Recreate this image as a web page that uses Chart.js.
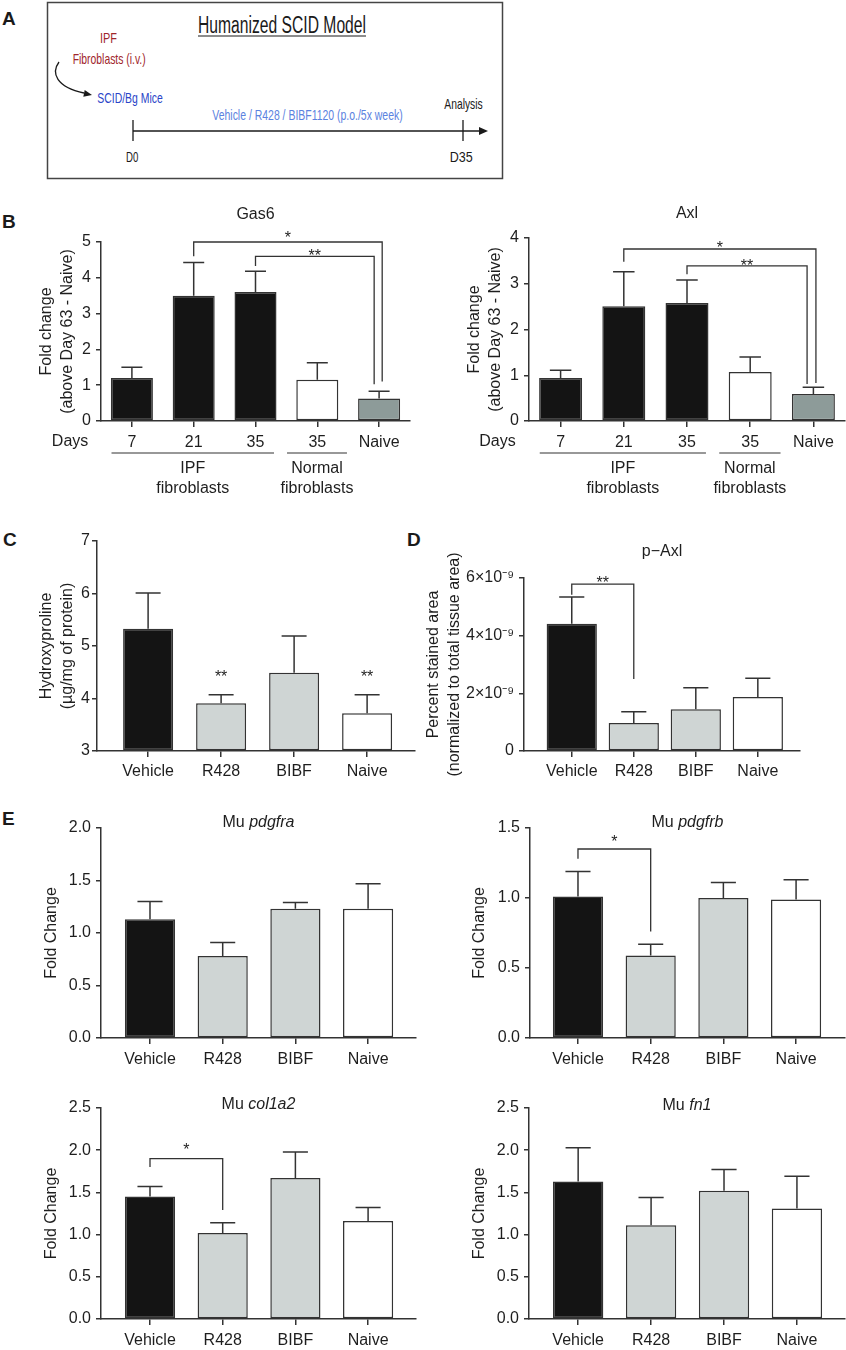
<!DOCTYPE html>
<html>
<head>
<meta charset="utf-8">
<script src="https://cdn.jsdelivr.net/npm/chart.js@4.4.1/dist/chart.umd.min.js"></script>
<style>
  html, body { margin: 0; padding: 0; background: #fff; }
  #page { position: relative; width: 846px; height: 1350px; overflow: hidden; }
  #page canvas { position: absolute; }
  #schema { position: absolute; left: 0; top: 0; }
</style>
</head>
<body>
<div id="page">
<svg id="schema" width="846" height="1350" font-family="'Liberation Sans', Arial, sans-serif">
  <g font-size="19" font-weight="bold" fill="#1a1a1a">
    <text x="2" y="25">A</text>
    <text x="2" y="228">B</text>
    <text x="3" y="546">C</text>
    <text x="407" y="546">D</text>
    <text x="2" y="825">E</text>
  </g>
  <rect x="47.5" y="2.5" width="455" height="176" fill="none" stroke="#444" stroke-width="1.5"/>
  <text x="198" y="33" font-size="23" fill="#1a1a1a" textLength="168" lengthAdjust="spacingAndGlyphs">Humanized SCID Model</text>
  <line x1="198" y1="36" x2="366" y2="36" stroke="#1a1a1a" stroke-width="1.2"/>
  <g font-size="15">
    <text x="100" y="43.3" fill="#a0252b" textLength="17" lengthAdjust="spacingAndGlyphs">IPF</text>
    <text x="72.7" y="63.5" fill="#a0252b" textLength="73" lengthAdjust="spacingAndGlyphs">Fibroblasts (i.v.)</text>
    <text x="97.3" y="103.3" fill="#2a45c8" textLength="65.4" lengthAdjust="spacingAndGlyphs">SCID/Bg Mice</text>
    <text x="212.3" y="120" fill="#5b82e0" textLength="190.4" lengthAdjust="spacingAndGlyphs">Vehicle / R428 / BIBF1120 (p.o./5x week)</text>
    <text x="444.3" y="109.3" fill="#1a1a1a" textLength="38.4" lengthAdjust="spacingAndGlyphs">Analysis</text>
    <text x="126" y="161.7" fill="#1a1a1a" textLength="12.3" lengthAdjust="spacingAndGlyphs">D0</text>
    <text x="449.7" y="161.7" fill="#1a1a1a" textLength="23" lengthAdjust="spacingAndGlyphs">D35</text>
  </g>
  <path d="M59,62 C51,73 56,87 84,93" fill="none" stroke="#1a1a1a" stroke-width="1.3"/>
  <polygon points="92,95 84.7,89.9 83.3,96.7" fill="#1a1a1a"/>
  <line x1="133" y1="131" x2="481" y2="131" stroke="#1a1a1a" stroke-width="1.3"/>
  <polygon points="488,131 479,127 479,135" fill="#1a1a1a"/>
  <line x1="133" y1="120" x2="133" y2="141" stroke="#1a1a1a" stroke-width="1.3"/>
  <line x1="463" y1="120" x2="463" y2="141" stroke="#1a1a1a" stroke-width="1.3"/>
</svg>
<canvas id="gas6" width="423" height="305" style="left:0;top:195px"></canvas>
<canvas id="axl" width="423" height="305" style="left:423px;top:195px"></canvas>
<canvas id="hyp" width="423" height="290" style="left:0;top:510px"></canvas>
<canvas id="paxl" width="423" height="290" style="left:423px;top:510px"></canvas>
<canvas id="pdgfra" width="423" height="272" style="left:0;top:800px"></canvas>
<canvas id="pdgfrb" width="423" height="272" style="left:423px;top:800px"></canvas>
<canvas id="col1a2" width="423" height="270" style="left:0;top:1080px"></canvas>
<canvas id="fn1" width="423" height="270" style="left:423px;top:1080px"></canvas>
</div>
<script>
const FONT = "'Liberation Sans', Arial, Helvetica, sans-serif";
const INK = '#1e1e1e';
const AXIS = '#333333';

Chart.defaults.font.family = FONT;
Chart.defaults.font.size = 16;
Chart.defaults.color = INK;

// panel B: days after IPF / normal fibroblast injection
const dayLabels = ['7', '21', '35', '35', 'Naive'];
const dayColors = ['#141414', '#141414', '#141414', '#ffffff', '#8d9b99'];
const gas6Mean = [1.20, 3.50, 3.60, 1.15, 0.63];
const gas6Err = [0.30, 0.93, 0.58, 0.48, 0.20];
const gas6Ticks = [0, 1, 2, 3, 4, 5];
const axlMean = [0.94, 2.51, 2.58, 1.07, 0.59];
const axlErr = [0.17, 0.75, 0.50, 0.33, 0.15];
const axlTicks = [0, 1, 2, 3, 4];
const fibroGroups = [
  { from: -0.33, to: 2.30, text: ['IPF', 'fibroblasts'] },
  { from: 2.51, to: 3.48, text: ['Normal', 'fibroblasts'] }
];

// panels C-E: treatment groups
const treatLabels = ['Vehicle', 'R428', 'BIBF', 'Naive'];
const treatColors = ['#141414', '#cfd5d4', '#cfd5d4', '#ffffff'];
const hypMean = [5.33, 3.91, 4.49, 3.72];
const hypErr = [0.68, 0.16, 0.70, 0.35];
const hypTicks = [3, 4, 5, 6, 7];
const pAxlMean = [4.41e-9, 0.97e-9, 1.45e-9, 1.87e-9];
const pAxlErr = [0.93e-9, 0.39e-9, 0.74e-9, 0.65e-9];
const pAxlTicks = [0, 2e-9, 4e-9, 6e-9];
const pdgfraMean = [1.13, 0.78, 1.23, 1.23];
const pdgfraErr = [0.17, 0.13, 0.06, 0.24];
const pdgfraTicks = [0, 0.5, 1, 1.5, 2];
const pdgfrbMean = [1.01, 0.59, 1.00, 0.99];
const pdgfrbErr = [0.18, 0.08, 0.11, 0.14];
const pdgfrbTicks = [0, 0.5, 1, 1.5];
const col1a2Mean = [1.45, 1.02, 1.67, 1.16];
const col1a2Err = [0.12, 0.12, 0.31, 0.16];
const fn1Mean = [1.63, 1.11, 1.52, 1.31];
const fn1Err = [0.40, 0.33, 0.25, 0.38];
const foldTicks = [0, 0.5, 1, 1.5, 2, 2.5];

// significance marks (value units)
const gas6Sig = [
  { a: 1, b: 4.05, top: 5.0, endA: 4.6, endB: 1.10, text: '*', textAt: 5.22 },
  { a: 2, b: 3.92, top: 4.6, endA: 4.33, endB: 1.03, text: '**', textAt: 4.73 }
];
const axlSig = [
  { a: 1, b: 4.04, top: 3.76, endA: 3.48, endB: 0.83, text: '*', textAt: 3.87 },
  { a: 2, b: 3.9, top: 3.39, endA: 3.21, endB: 0.81, text: '**', textAt: 3.48 }
];
const hypStars = [{ at: 1, value: 4.49, text: '**' }, { at: 3, value: 4.49, text: '**' }];
const pAxlSig = [{ a: 0, b: 1, top: 5.79e-9, endA: 5.42e-9, endB: 2.5e-9, text: '**', textAt: 5.97e-9 }];
const pdgfrbSig = [{ a: 0, b: 1, top: 1.35, endA: 1.28, endB: 0.76, text: '*', textAt: 1.43 }];
const col1a2Sig = [{ a: 0, b: 1, top: 1.90, endA: 1.80, endB: 1.29, text: '*', textAt: 2.05 }];

const plainNum = v => String(v);
const oneDec = v => v.toFixed(1);
const sciNine = v => v === 0 ? '0' : Math.round(v * 1e9) + '×10⁻⁹';

function drawBars(id, o) {
  const annot = {
    id: 'annot',
    afterDatasetsDraw(chart) {
      const { ctx, chartArea: area, scales: { x, y } } = chart;
      const bars = chart.getDatasetMeta(0).data;
      ctx.save();
      ctx.strokeStyle = AXIS;
      ctx.lineWidth = 1.5;
      // upper error bars
      bars.forEach((bar, i) => {
        const top = y.getPixelForValue(o.mean[i] + o.err[i]);
        const cap = bar.width / 4;
        ctx.beginPath();
        ctx.moveTo(bar.x, bar.y);
        ctx.lineTo(bar.x, top);
        ctx.moveTo(bar.x - cap, top);
        ctx.lineTo(bar.x + cap, top);
        ctx.stroke();
      });
      ctx.lineWidth = 1.3;
      ctx.fillStyle = INK;
      ctx.textAlign = 'center';
      ctx.textBaseline = 'alphabetic';
      ctx.font = '16px ' + FONT;
      (o.sig || []).forEach(b => {
        const xa = x.getPixelForValue(b.a);
        const xb = x.getPixelForValue(b.b);
        const yt = y.getPixelForValue(b.top);
        ctx.beginPath();
        ctx.moveTo(xa, y.getPixelForValue(b.endA));
        ctx.lineTo(xa, yt);
        ctx.lineTo(xb, yt);
        ctx.lineTo(xb, y.getPixelForValue(b.endB));
        ctx.stroke();
        ctx.fillText(b.text, (xa + xb) / 2, y.getPixelForValue(b.textAt) + 9);
      });
      (o.stars || []).forEach(s => {
        ctx.fillText(s.text, x.getPixelForValue(s.at), y.getPixelForValue(s.value) + 9);
      });
      // title, gene names in italics
      const cx = (area.left + area.right) / 2;
      const ty = area.top + o.titleDy;
      ctx.textAlign = 'left';
      const plainFont = '16px ' + FONT;
      const italFont = 'italic 16px ' + FONT;
      ctx.font = plainFont;
      const w1 = ctx.measureText(o.title[0]).width;
      ctx.font = italFont;
      const w2 = o.title[1] ? ctx.measureText(o.title[1]).width : 0;
      let tx = cx - (w1 + w2) / 2;
      ctx.font = plainFont;
      ctx.fillText(o.title[0], tx, ty);
      if (o.title[1]) {
        ctx.font = italFont;
        ctx.fillText(o.title[1], tx + w1, ty);
      }
      // day groups under the axis (panel B)
      if (o.groups) {
        ctx.font = '16px ' + FONT;
        ctx.textAlign = 'center';
        ctx.textBaseline = 'middle';
        ctx.fillText('Days', x.getPixelForValue(-1.0), area.bottom + 21);
        ctx.lineWidth = 1.2;
        o.groups.forEach(g => {
          const x0 = x.getPixelForValue(g.from);
          const x1 = x.getPixelForValue(g.to);
          ctx.beginPath();
          ctx.moveTo(x0, area.bottom + 32);
          ctx.lineTo(x1, area.bottom + 32);
          ctx.stroke();
          g.text.forEach((t, k) => ctx.fillText(t, (x0 + x1) / 2, area.bottom + 48 + k * 20));
        });
      }
      ctx.restore();
    }
  };

  return new Chart(document.getElementById(id), {
    type: 'bar',
    data: {
      datasets: [{
        data: o.mean.map((v, i) => ({ x: i, y: v })),
        backgroundColor: o.colors,
        borderColor: AXIS,
        borderWidth: 1.5,
        borderSkipped: false,
        base: o.yTicks[0],
        barPercentage: o.barPct,
        categoryPercentage: 1
      }]
    },
    options: {
      responsive: false,
      animation: false,
      layout: { padding: { left: 0, top: o.padTop, right: o.padRight, bottom: 0 } },
      plugins: { legend: { display: false }, tooltip: { enabled: false }, title: { display: false } },
      scales: {
        x: {
          type: 'linear',
          min: o.xRange[0],
          max: o.xRange[1],
          offset: false,
          afterBuildTicks: s => { s.ticks = o.labels.map((_, i) => ({ value: i })); },
          afterFit: s => { s.height = o.xh; },
          grid: { display: true, offset: false, drawOnChartArea: false, drawTicks: true, tickLength: 6, color: AXIS, lineWidth: 1.5 },
          border: { display: true, color: AXIS, width: 1.5 },
          ticks: { callback: v => o.labels[v], padding: o.xPad, autoSkip: false, maxRotation: 0, color: INK, font: { size: 16 } }
        },
        y: {
          min: o.yTicks[0],
          max: o.yTicks[o.yTicks.length - 1],
          afterBuildTicks: s => { s.ticks = o.yTicks.map(v => ({ value: v })); },
          afterFit: s => { s.width = o.yw; },
          grid: { display: true, drawOnChartArea: false, drawTicks: true, tickLength: 5, color: AXIS, lineWidth: 1.5 },
          border: { display: true, color: AXIS, width: 1.5 },
          ticks: { callback: o.fmt, padding: o.yPad, color: INK, font: { size: 16 } },
          title: {
            display: true,
            text: o.yTitle,
            color: INK,
            font: { size: 16, lineHeight: 1.3 },
            padding: { top: o.ytPad, bottom: 0 }
          }
        }
      }
    },
    plugins: [annot]
  });
}

drawBars('gas6', {
  labels: dayLabels, colors: dayColors, mean: gas6Mean, err: gas6Err, yTicks: gas6Ticks, fmt: plainNum,
  sig: gas6Sig, groups: fibroGroups, title: ['Gas6'], titleDy: -22.7,
  yTitle: ['Fold change', '(above Day 63 - Naive)'], ytPad: 36.6,
  xRange: [-0.5, 4.5], barPct: 0.68, padTop: 47, padRight: 13, yw: 101, xh: 79, xPad: 6, yPad: 5
});
drawBars('axl', {
  labels: dayLabels, colors: dayColors, mean: axlMean, err: axlErr, yTicks: axlTicks, fmt: plainNum,
  sig: axlSig, groups: fibroGroups, title: ['Axl'], titleDy: -19.7,
  yTitle: ['Fold change', '(above Day 63 - Naive)'], ytPad: 41.6,
  xRange: [-0.5, 4.5], barPct: 0.68, padTop: 43, padRight: 1, yw: 106, xh: 79, xPad: 6, yPad: 5
});
drawBars('hyp', {
  labels: treatLabels, colors: treatColors, mean: hypMean, err: hypErr, yTicks: hypTicks, fmt: plainNum,
  stars: hypStars, title: [''], titleDy: 0,
  yTitle: ['Hydroxyproline', '(µg/mg of protein)'], ytPad: 36.3,
  xRange: [-0.7, 3.656], barPct: 0.685, padTop: 31, padRight: 8, yw: 97, xh: 49, xPad: 5, yPad: 2
});
drawBars('paxl', {
  labels: treatLabels, colors: treatColors, mean: pAxlMean, err: pAxlErr, yTicks: pAxlTicks, fmt: sciNine,
  sig: pAxlSig, title: ['p−Axl'], titleDy: -22.3,
  yTitle: ['Percent stained area', '(normalized to total tissue area)'], ytPad: 0,
  xRange: [-0.77, 3.68], barPct: 0.81, padTop: 68, padRight: 46, yw: 101, xh: 49, xPad: 5, yPad: 5
});
drawBars('pdgfra', {
  labels: treatLabels, colors: treatColors, mean: pdgfraMean, err: pdgfraErr, yTicks: pdgfraTicks, fmt: oneDec,
  title: ['Mu ', 'pdgfra'], titleDy: -1.3,
  yTitle: 'Fold Change', ytPad: 41.6,
  xRange: [-0.674, 3.659], barPct: 0.69, padTop: 28, padRight: 7, yw: 101, xh: 34, xPad: 6, yPad: 5
});
drawBars('pdgfrb', {
  labels: treatLabels, colors: treatColors, mean: pdgfrbMean, err: pdgfrbErr, yTicks: pdgfrbTicks, fmt: oneDec,
  sig: pdgfrbSig, title: ['Mu ', 'pdgfrb'], titleDy: -0.7,
  yTitle: 'Fold Change', ytPad: 46.6,
  xRange: [-0.66, 3.673], barPct: 0.69, padTop: 28, padRight: 1, yw: 107, xh: 34, xPad: 6, yPad: 5
});
drawBars('col1a2', {
  labels: treatLabels, colors: treatColors, mean: col1a2Mean, err: col1a2Err, yTicks: foldTicks, fmt: oneDec,
  sig: col1a2Sig, title: ['Mu ', 'col1a2'], titleDy: 1.3,
  yTitle: 'Fold Change', ytPad: 41.6,
  xRange: [-0.674, 3.659], barPct: 0.69, padTop: 28, padRight: 7, yw: 101, xh: 31, xPad: 6, yPad: 5
});
drawBars('fn1', {
  labels: treatLabels, colors: treatColors, mean: fn1Mean, err: fn1Err, yTicks: foldTicks, fmt: oneDec,
  title: ['Mu ', 'fn1'], titleDy: 2,
  yTitle: 'Fold Change', ytPad: 46.6,
  xRange: [-0.674, 3.659], barPct: 0.69, padTop: 28, padRight: 1, yw: 106, xh: 31, xPad: 6, yPad: 5
});
</script>
</body>
</html>
